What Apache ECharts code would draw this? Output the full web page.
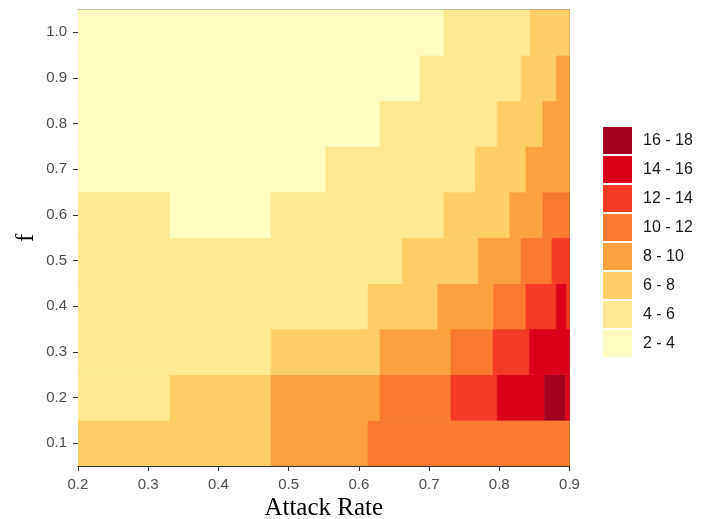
<!DOCTYPE html>
<html>
<head>
<meta charset="utf-8">
<script src="https://cdn.jsdelivr.net/npm/echarts@6/dist/echarts.min.js"></script>
<style>
  html, body { margin: 0; padding: 0; background: #ffffff; }
  #chart { width: 713px; height: 519px; }
</style>
</head>
<body>
<div id="chart"></div>
<script>
// f values, one row of tiles per value
const fLabels = ['0.1', '0.2', '0.3', '0.4', '0.5', '0.6', '0.7', '0.8', '0.9', '1.0'];

// Attack-rate edges of the tiles in each row (row order follows fLabels)
const rowEdges = [
  [0.2, 0.475, 0.613, 0.9],
  [0.2, 0.331, 0.475, 0.630, 0.731, 0.797, 0.864, 0.894, 0.9],
  [0.2, 0.475, 0.630, 0.731, 0.791, 0.843, 0.9],
  [0.2, 0.613, 0.712, 0.792, 0.838, 0.881, 0.896, 0.9],
  [0.2, 0.662, 0.770, 0.831, 0.875, 0.9],
  [0.2, 0.331, 0.475, 0.721, 0.815, 0.862, 0.9],
  [0.2, 0.553, 0.766, 0.838, 0.9],
  [0.2, 0.630, 0.797, 0.862, 0.9],
  [0.2, 0.687, 0.831, 0.881, 0.9],
  [0.2, 0.721, 0.844, 0.9]
];

// Value of each tile between consecutive edges
const rowValues = [
  [7, 9, 11],
  [5, 7, 9, 11, 13, 15, 17, 15],
  [5, 7, 9, 11, 13, 15],
  [5, 7, 9, 11, 13, 15, 13],
  [5, 7, 9, 11, 13],
  [5, 3, 5, 7, 9, 11],
  [3, 5, 7, 9],
  [3, 5, 7, 9],
  [3, 5, 7, 9],
  [3, 5, 7]
];

// Colour classes
const binLower = [2, 4, 6, 8, 10, 12, 14, 16];
const binUpper = [4, 6, 8, 10, 12, 14, 16, 18];
const binColors = ['#fffcc2', '#fee891', '#fecf67', '#fba23e', '#f97a30', '#f43b26', '#da0019', '#a1001f'];

// x tick values
const xTicks = [0.2, 0.3, 0.4, 0.5, 0.6, 0.7, 0.8, 0.9];

const tiles = [];
rowEdges.forEach(function (edges, r) {
  for (let i = 0; i < edges.length - 1; i++) {
    tiles.push([edges[i], edges[i + 1], r, rowValues[r][i]]);
  }
});

const pieces = binLower.map(function (lo, i) {
  return { gte: lo, lt: binUpper[i], label: lo + ' - ' + binUpper[i], color: binColors[i] };
});

const sans = 'Liberation Sans, Arial, sans-serif';
const serif = 'Liberation Serif, Times New Roman, serif';

const chart = echarts.init(document.getElementById('chart'), null, { renderer: 'canvas' });

chart.setOption({
  animation: false,
  backgroundColor: '#ffffff',
  grid: { left: 78, right: 143.5, top: 9.5, bottom: 53, containLabel: false, outerBoundsMode: 'none' },
  xAxis: [{
    type: 'value',
    min: xTicks[0],
    max: xTicks[xTicks.length - 1],
    interval: 0.1,
    name: 'Attack Rate',
    nameLocation: 'middle',
    nameGap: 30,
    nameMoveOverlap: false,
    nameTextStyle: { fontFamily: serif, fontSize: 25, color: '#000000' },
    axisLine: { show: true, lineStyle: { color: '#333333', width: 1 } },
    axisTick: { show: true, length: 5, lineStyle: { color: '#333333', width: 1 } },
    axisLabel: {
      margin: 11, fontFamily: sans, fontSize: 15, color: '#4d4d4d',
      formatter: function (v) { return v.toFixed(1); }
    },
    splitLine: { show: false }
  }, {
    type: 'value',
    position: 'top',
    min: xTicks[0],
    max: xTicks[xTicks.length - 1],
    axisLine: { show: true, lineStyle: { color: '#8c8c8c', width: 1 } },
    axisTick: { show: false },
    axisLabel: { show: false },
    splitLine: { show: false }
  }],
  yAxis: [{
    type: 'category',
    data: fLabels,
    boundaryGap: true,
    name: 'f',
    nameLocation: 'middle',
    nameGap: 39,
    nameMoveOverlap: false,
    nameRotate: 90,
    nameTextStyle: { fontFamily: serif, fontSize: 25, color: '#000000' },
    axisLine: { show: true, lineStyle: { color: '#333333', width: 1 } },
    axisTick: { show: true, alignWithLabel: true, length: 5, lineStyle: { color: '#333333', width: 1 } },
    axisLabel: { margin: 11, fontFamily: sans, fontSize: 15, color: '#4d4d4d' },
    splitLine: { show: false }
  }, {
    type: 'category',
    data: fLabels,
    position: 'right',
    axisLine: { show: true, lineStyle: { color: '#555555', width: 1 } },
    axisTick: { show: false },
    axisLabel: { show: false },
    splitLine: { show: false }
  }],
  visualMap: {
    type: 'piecewise',
    dimension: 3,
    seriesIndex: 0,
    pieces: pieces,
    orient: 'vertical',
    align: 'left',
    left: 603,
    top: 127,
    padding: 0,
    itemWidth: 29,
    itemHeight: 27,
    itemGap: 2,
    itemSymbol: 'rect',
    textGap: 11,
    selectedMode: false,
    hoverLink: false,
    textStyle: { fontFamily: sans, fontSize: 16, color: '#1a1a1a' }
  },
  series: [{
    type: 'custom',
    clip: true,
    encode: { x: [0, 1], y: 2 },
    data: tiles,
    renderItem: function (params, api) {
      const row = api.value(2);
      const p0 = api.coord([api.value(0), row]);
      const p1 = api.coord([api.value(1), row]);
      const h = api.size([0, 1])[1];
      const color = api.visual('color');
      return {
        type: 'rect',
        shape: { x: p0[0], y: p0[1] - h / 2, width: p1[0] - p0[0], height: h },
        style: { fill: color, stroke: color, lineWidth: 0.6 }
      };
    }
  }]
});
</script>
</body>
</html>
